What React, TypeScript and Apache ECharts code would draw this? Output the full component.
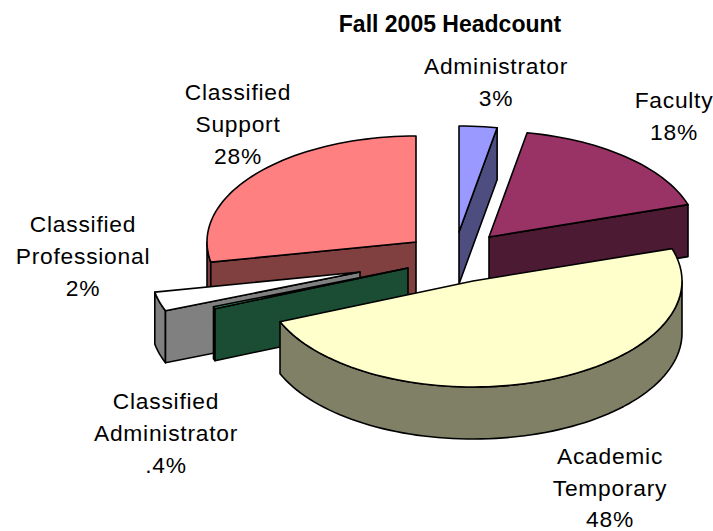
import React, { useEffect, useRef } from "react";
import * as echarts from "echarts";

const chartTitle = "Fall 2005 Headcount";
const categories = [
  "Administrator",
  "Faculty",
  "Academic\nTemporary",
  "Classified\nAdministrator",
  "Classified\nProfessional",
  "Classified\nSupport",
];
const percentLabels = ["3%", "18%", "48%", ".4%", "2%", "28%"];
// Slice sizes as drawn (share of the circle)
const sliceShares = [2.92, 17.14, 48.67, 0.31, 2.92, 28.04];

const topColors = ["#9999FF", "#993366", "#FFFFCC", "#339966", "#FFFFFF", "#FF8080"];
const sideColors = ["#4D4D80", "#4D1A33", "#808066", "#1A4D33", "#808080", "#804040"];

// Layout only
const apexes = [[459, 232], [489, 237], [473, 281], [408, 268], [360, 272], [416, 242]];
const labelCenters = [[496, 66], [674, 100], [610, 456], [166, 401], [83, 224], [238, 92]];
const lineHeights = [32, 32, 31.5, 32, 32, 32];
const drawOrder = [2, 3, 6, 5, 4, 1];
const RX = 209;
const RY = 106;
const DEPTH = 52;
const FONT = "'Liberation Sans', Arial, sans-serif";

const total = sliceShares.reduce((a, b) => a + b, 0);
const edgeAngle = (i: number) =>
  (sliceShares.slice(0, i).reduce((a, b) => a + b, 0) / total) * 360;
const rad = (d: number) => (d * Math.PI) / 180;

function renderItem(_params: any, api: any) {
  const i = api.value(0);
  const t0 = edgeAngle(i);
  const t1 = t0 + (api.value(1) / total) * 360;
  const [cx, cy] = apexes[i];
  const rim = (t: number, dz = 0) => [
    cx + RX * Math.sin(rad(t)),
    cy - RY * Math.cos(rad(t)) + dz,
  ];
  const arc = (a: number, b: number, dz = 0) => {
    const pts: number[][] = [];
    const n = Math.max(1, Math.ceil((b - a) / 2));
    for (let k = 0; k <= n; k++) pts.push(rim(a + ((b - a) * k) / n, dz));
    return pts;
  };
  const z = drawOrder[i] * 10;
  const side = { fill: sideColors[i], stroke: "#000", lineWidth: 1.6, lineJoin: "round" };
  const children: any[] = [];
  const face = (t: number) =>
    children.push({
      type: "polygon",
      z2: z + 1,
      shape: { points: [[cx, cy], rim(t), rim(t, DEPTH), [cx, cy + DEPTH]] },
      style: side,
    });
  // front wall of the rim
  const a = Math.max(t0, 90);
  const b = Math.min(t1, 270);
  if (b > a) {
    children.push({
      type: "polygon",
      z2: z,
      shape: { points: [...arc(a, b), ...arc(a, b, DEPTH).reverse()] },
      style: side,
    });
  }
  // cut faces that turn toward the viewer
  if (Math.sin(rad(t1)) > 0.001) face(t1);
  if (Math.sin(rad(t0)) < -0.001) face(t0);
  // top surface
  children.push({
    type: "polygon",
    z2: z + 2,
    shape: { points: [[cx, cy], ...arc(t0, t1)] },
    style: { fill: topColors[i], stroke: "#000", lineWidth: 1.6, lineJoin: "round" },
  });
  // label
  children.push({
    type: "text",
    z2: 100,
    style: {
      text: `${categories[i]}\n${percentLabels[i]}`,
      x: labelCenters[i][0],
      y: labelCenters[i][1] - lineHeights[i] / 2,
      align: "center",
      verticalAlign: "top",
      fontFamily: FONT,
      fontSize: 22.8,
      lineHeight: lineHeights[i],
      fill: "#000",
    },
  });
  return { type: "group", children };
}

export default function App() {
  const ref = useRef<HTMLDivElement>(null);
  useEffect(() => {
    document.body.style.margin = "0";
    const chart = echarts.init(ref.current!, undefined, { renderer: "svg" });
    chart.setOption({
      animation: false,
      backgroundColor: "#fff",
      title: {
        text: chartTitle,
        left: 445,
        top: 7,
        textAlign: "center",
        textStyle: { fontFamily: FONT, fontSize: 23, fontWeight: "bold", color: "#000" },
      },
      series: [
        {
          type: "custom",
          coordinateSystem: "none",
          silent: true,
          renderItem,
          data: sliceShares.map((v, i) => [i, v]),
        },
      ],
    });
    return () => chart.dispose();
  }, []);
  return (
    <>
      <style>{`#chart svg text { letter-spacing: 0.75px; } #chart svg text[style*="bold"] { letter-spacing: 0; }`}</style>
      <div id="chart" ref={ref} style={{ width: 713, height: 531 }} />
    </>
  );
}
